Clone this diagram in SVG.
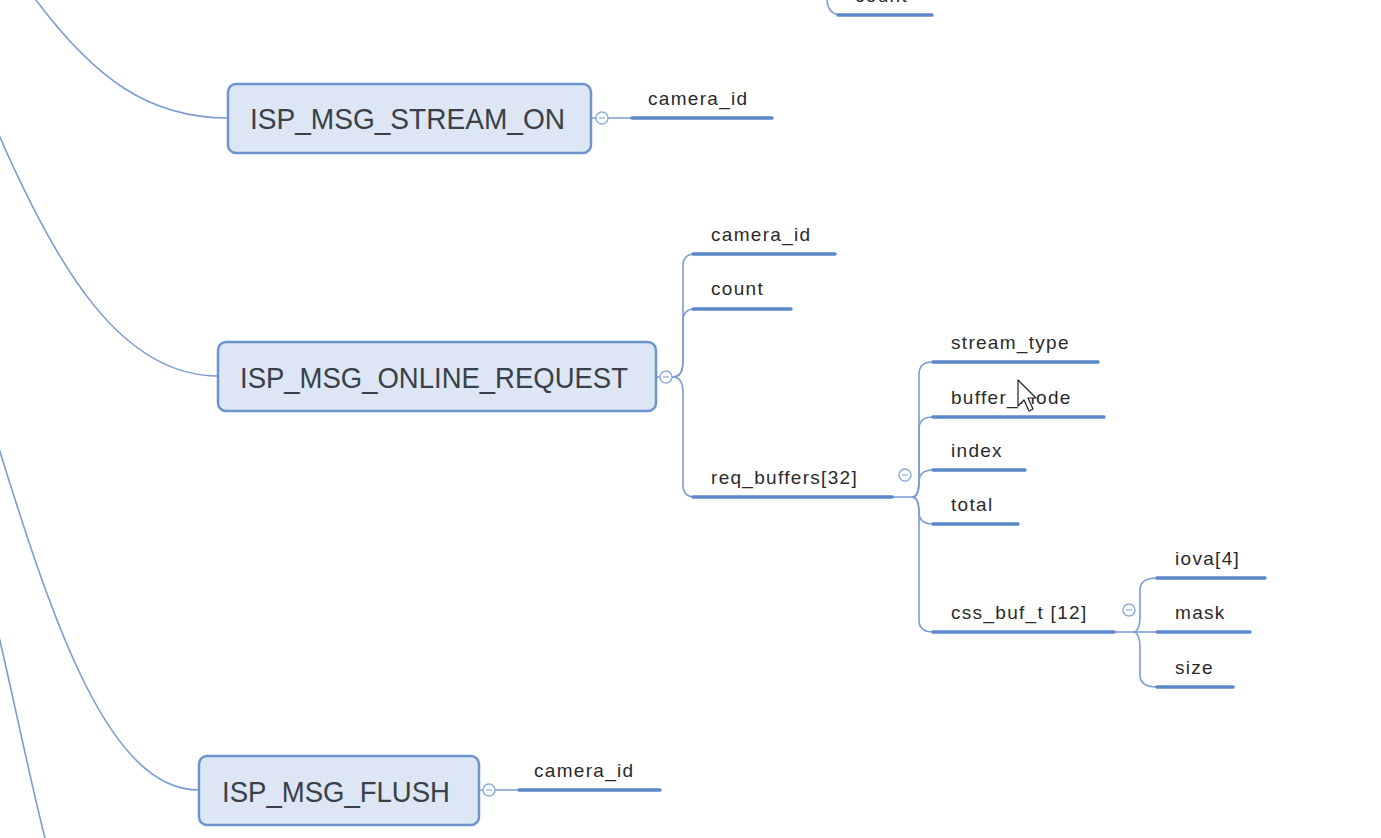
<svg xmlns="http://www.w3.org/2000/svg" width="1381" height="838" viewBox="0 0 1381 838">
<style>
.bg{fill:#ffffff}
.box{fill:#dce6f4;stroke:#6b93cc;stroke-width:2.5}
.btxt{font-family:"Liberation Sans",Arial,sans-serif;font-size:30px;fill:#3a3f48}
.lbl{font-family:"Liberation Sans",Arial,sans-serif;font-size:19px;letter-spacing:1.3px;fill:#2a2a2a}
.thin{fill:none;stroke:#7d9dd2;stroke-width:1.6}
.ul{fill:none;stroke:#5b88c9;stroke-width:3.5;stroke-linecap:round}
.col{fill:#ffffff;stroke:#8eaddb;stroke-width:1.5}
.colm{stroke:#8eaddb;stroke-width:1.2}
</style>
<rect class="bg" x="0" y="0" width="1381" height="838"/>
<g id="connectors">
  <path class="thin" d="M33 -4 C95 80 150 118 228 118"/>
  <path class="thin" d="M-4 128 C55 265 120 376 218 376"/>
  <path class="thin" d="M-3 442 C55 630 110 790 199 790"/>
  <path class="thin" d="M-3 628 C14 700 30 780 46 842"/>
  <path class="thin" d="M827 -2 Q827 15 842 15"/>
  <path class="thin" d="M591 118 L596 118 M608 118 L632 118"/>
  <path class="thin" d="M656 377 L660 377"/>
  <path class="thin" d="M672 377 C680 377 683 372 683 360 L683 266 Q683 254 695 254"/>
  <path class="thin" d="M672 377 C680 377 683 372 683 360 L683 321 Q683 309 695 309"/>
  <path class="thin" d="M672 377 C680 377 683 382 683 394 L683 485 Q683 497 695 497"/>
  <path class="thin" d="M893 497 L912 497"/>
  <path class="thin" d="M912 497 C917 497 919 492 919 480 L919 374 Q919 362 933 362"/>
  <path class="thin" d="M912 497 C917 497 919 492 919 480 L919 429 Q919 417 933 417"/>
  <path class="thin" d="M912 497 C917 497 919 492 919 482 Q919 470 933 470"/>
  <path class="thin" d="M912 497 C917 497 919 502 919 512 Q919 524 933 524"/>
  <path class="thin" d="M912 497 C917 497 919 502 919 514 L919 620 Q919 632 933 632"/>
  <path class="thin" d="M1115 632 L1157 632"/>
  <path class="thin" d="M1133 632 C1137 632 1140 627 1140 615 L1140 590 Q1140 578 1157 578"/>
  <path class="thin" d="M1133 632 C1137 632 1140 637 1140 649 L1140 675 Q1140 687 1157 687"/>
  <path class="thin" d="M479 790 L483 790 M495 790 L519 790"/>
</g>
<g id="n-top-count">
  <line class="ul" x1="838" y1="15" x2="932" y2="15"/>
  <text class="lbl" x="855" y="2">count</text>
</g>
<g id="n-stream-on">
  <rect class="box" x="228" y="84" width="363" height="69" rx="8"/>
  <text class="btxt" x="250" y="129" textLength="315" lengthAdjust="spacingAndGlyphs">ISP_MSG_STREAM_ON</text>
  <circle class="col" cx="602" cy="118" r="6"/>
  <line class="colm" x1="599" y1="118" x2="605" y2="118"/>
</g>
<g id="n-stream-on-camera-id">
  <line class="ul" x1="632" y1="118" x2="772" y2="118"/>
  <text class="lbl" x="648" y="105">camera_id</text>
</g>
<g id="n-online-request">
  <rect class="box" x="218" y="342" width="438" height="69" rx="8"/>
  <text class="btxt" x="240" y="388" textLength="388" lengthAdjust="spacingAndGlyphs">ISP_MSG_ONLINE_REQUEST</text>
  <circle class="col" cx="666" cy="377" r="6"/>
  <line class="colm" x1="663" y1="377" x2="669" y2="377"/>
</g>
<g id="n-online-camera-id">
  <line class="ul" x1="693" y1="254" x2="835" y2="254"/>
  <text class="lbl" x="711" y="241">camera_id</text>
</g>
<g id="n-online-count">
  <line class="ul" x1="693" y1="309" x2="791" y2="309"/>
  <text class="lbl" x="711" y="295">count</text>
</g>
<g id="n-req-buffers">
  <line class="ul" x1="693" y1="497" x2="892" y2="497"/>
  <text class="lbl" x="711" y="484">req_buffers[32]</text>
  <circle class="col" cx="905" cy="475" r="6"/>
  <line class="colm" x1="902" y1="475" x2="908" y2="475"/>
</g>
<g id="n-stream-type">
  <line class="ul" x1="933" y1="362" x2="1098" y2="362"/>
  <text class="lbl" x="951" y="349">stream_type</text>
</g>
<g id="n-buffer-mode">
  <line class="ul" x1="933" y1="417" x2="1104" y2="417"/>
  <text class="lbl" x="951" y="404">buffer_mode</text>
</g>
<g id="n-index">
  <line class="ul" x1="933" y1="470" x2="1025" y2="470"/>
  <text class="lbl" x="951" y="457">index</text>
</g>
<g id="n-total">
  <line class="ul" x1="933" y1="524" x2="1018" y2="524"/>
  <text class="lbl" x="951" y="511">total</text>
</g>
<g id="n-css-buf-t">
  <line class="ul" x1="933" y1="632" x2="1114" y2="632"/>
  <text class="lbl" x="951" y="619">css_buf_t [12]</text>
  <circle class="col" cx="1129" cy="610" r="6"/>
  <line class="colm" x1="1126" y1="610" x2="1132" y2="610"/>
</g>
<g id="n-iova">
  <line class="ul" x1="1157" y1="578" x2="1265" y2="578"/>
  <text class="lbl" x="1175" y="565">iova[4]</text>
</g>
<g id="n-mask">
  <line class="ul" x1="1157" y1="632" x2="1250" y2="632"/>
  <text class="lbl" x="1175" y="619">mask</text>
</g>
<g id="n-size">
  <line class="ul" x1="1157" y1="687" x2="1233" y2="687"/>
  <text class="lbl" x="1175" y="674">size</text>
</g>
<g id="n-flush">
  <rect class="box" x="199" y="756" width="280" height="69" rx="8"/>
  <text class="btxt" x="222" y="802" textLength="228" lengthAdjust="spacingAndGlyphs">ISP_MSG_FLUSH</text>
  <circle class="col" cx="489" cy="790" r="6"/>
  <line class="colm" x1="486" y1="790" x2="492" y2="790"/>
</g>
<g id="n-flush-camera-id">
  <line class="ul" x1="519" y1="790" x2="660" y2="790"/>
  <text class="lbl" x="534" y="777">camera_id</text>
</g>
<g id="cursor">
  <polygon points="1018,380 1018,406 1024,400 1029,411 1033,409 1028,398 1036,398" fill="#ffffff" stroke="#222222" stroke-width="1.2" stroke-linejoin="round"/>
</g>
</svg>
